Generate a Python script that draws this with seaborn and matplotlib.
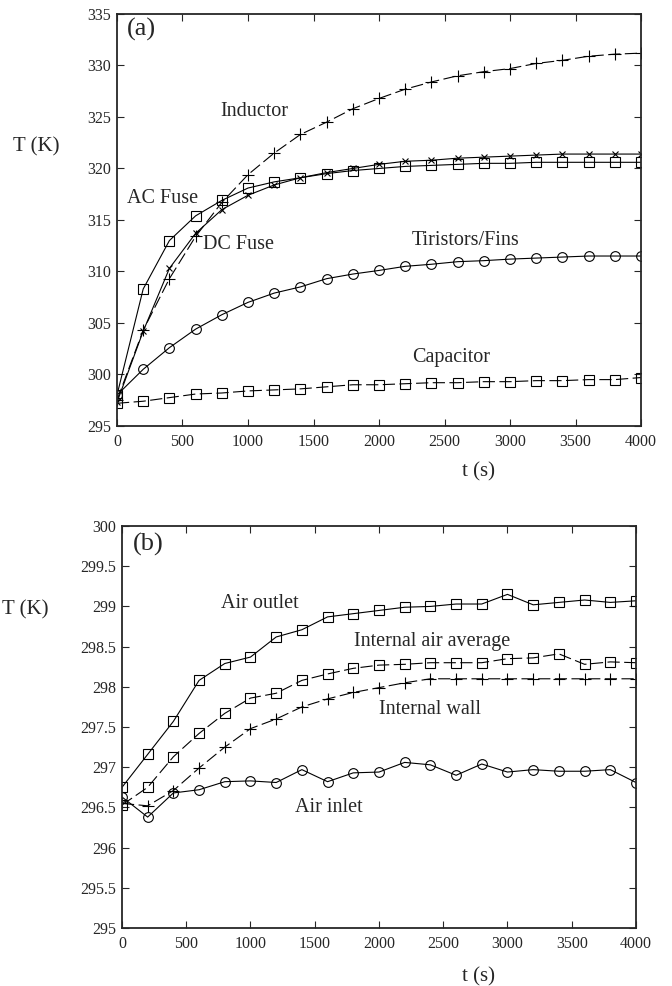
import numpy as np
import matplotlib
matplotlib.use("Agg")
import matplotlib.pyplot as plt
import seaborn as sns

sns.set_style("ticks")
plt.rcParams['font.family'] = ['Liberation Serif', 'DejaVu Serif']

t = np.arange(0, 4001, 200)

# panel (a)
inductor = [297.5, 304.3, 309.3, 313.4, 316.7, 319.4, 321.5, 323.3, 324.5, 325.8, 326.8,
            327.7, 328.4, 329.0, 329.4, 329.7, 330.2, 330.5, 330.9, 331.1, 331.2]
ac_fuse = [298.0, 308.3, 313.0, 315.4, 316.9, 318.1, 318.7, 319.1, 319.5, 319.8, 320.0,
           320.2, 320.3, 320.4, 320.5, 320.5, 320.6, 320.6, 320.6, 320.6, 320.6]
dc_fuse = [297.3, 304.2, 310.3, 313.7, 316.0, 317.4, 318.4, 319.1, 319.6, 320.0, 320.4,
           320.7, 320.8, 321.0, 321.1, 321.2, 321.3, 321.4, 321.4, 321.4, 321.4]
tiristors = [298.0, 300.5, 302.6, 304.4, 305.8, 307.0, 307.9, 308.5, 309.3, 309.75, 310.1,
             310.5, 310.7, 310.95, 311.05, 311.2, 311.3, 311.4, 311.5, 311.5, 311.5]
capacitor = [297.2, 297.4, 297.75, 298.1, 298.2, 298.4, 298.5, 298.6, 298.8, 299.0, 299.0,
             299.1, 299.2, 299.2, 299.3, 299.3, 299.4, 299.4, 299.5, 299.5, 299.7]

# panel (b)
air_outlet = [296.75, 297.16, 297.57, 298.08, 298.29, 298.37, 298.62, 298.71, 298.87, 298.91, 298.95,
              298.99, 299.0, 299.03, 299.03, 299.15, 299.02, 299.05, 299.08, 299.05, 299.07]
air_avg = [296.53, 296.75, 297.13, 297.42, 297.67, 297.86, 297.92, 298.08, 298.16, 298.23, 298.27,
           298.28, 298.30, 298.30, 298.30, 298.35, 298.36, 298.41, 298.28, 298.31, 298.30]
int_wall = [296.55, 296.52, 296.71, 296.99, 297.25, 297.48, 297.60, 297.75, 297.85, 297.93, 297.99,
            298.05, 298.10, 298.10, 298.10, 298.10, 298.10, 298.10, 298.10, 298.10, 298.10]
air_inlet = [296.63, 296.38, 296.68, 296.72, 296.82, 296.83, 296.81, 296.97, 296.82, 296.93, 296.94,
             297.06, 297.03, 296.90, 297.04, 296.94, 296.97, 296.95, 296.95, 296.97, 296.81]

dash = (0, (11, 4))

def draw(ax, y, marker, ls, ms):
    sns.lineplot(x=t, y=y, ax=ax, color='k', lw=0.8, linestyle=ls, marker=marker,
                 markersize=ms, markerfacecolor='none', mec='k', mew=0.8, errorbar=None)

fig = plt.figure(figsize=(6.72, 9.86), dpi=100)
ax1 = fig.add_axes([0.1741, 0.5680, 0.7798, 0.4178])
ax2 = fig.add_axes([0.1815, 0.0588, 0.7649, 0.4077])

draw(ax1, inductor, '+', dash, 8)
draw(ax1, ac_fuse, 's', '-', 7)
draw(ax1, dc_fuse, 'x', '-', 5)
draw(ax1, tiristors, 'o', '-', 7)
draw(ax1, capacitor, 's', dash, 7)

draw(ax2, air_outlet, 's', '-', 7)
draw(ax2, air_avg, 's', dash, 7)
draw(ax2, int_wall, '+', dash, 8)
draw(ax2, air_inlet, 'o', '-', 7)

txt = dict(fontsize=14.5, va='center', ha='left')
ax1.text(786, 325.5, 'Inductor', **txt)
ax1.text(76, 317.1, 'AC Fuse', **txt)
ax1.text(657, 312.6, 'DC Fuse', **txt)
ax1.text(2252, 313.0, 'Tiristors/Fins', **txt)
ax1.text(2252, 301.65, 'Capacitor', **txt)
ax1.text(75, 334.6, '(a)', fontsize=19, va='top', ha='left')

ax2.text(770, 299.04, 'Air outlet', **txt)
ax2.text(1805, 298.56, 'Internal air average', **txt)
ax2.text(2000, 297.72, 'Internal wall', **txt)
ax2.text(1346, 296.50, 'Air inlet', **txt)
ax2.text(86, 299.92, '(b)', fontsize=19, va='top', ha='left')

ax1.set_xlim(0, 4000)
ax1.set_ylim(295, 335)
ax1.set_yticks(np.arange(295, 336, 5))
ax2.set_xlim(0, 4000)
ax2.set_ylim(295, 300)
ax2.set_yticks(np.arange(295, 300.01, 0.5))

for ax, lx, ly, tx, ty in [(ax1, -0.198, 0.677, 0.689, -0.112),
                           (ax2, -0.233, 0.791, 0.693, -0.122)]:
    ax.set_xticks(np.arange(0, 4001, 500))
    ax.yaxis.set_major_formatter(matplotlib.ticker.FormatStrFormatter('%g'))
    ax.tick_params(direction='in', top=True, right=True, length=5, width=0.8,
                   labelsize=11.5, pad=4)
    ax.tick_params(axis='x', pad=6)
    for s in ax.spines.values():
        s.set_linewidth(1.3)
    ax.set_ylabel('T (K)', rotation=0, fontsize=15, ha='left', va='center')
    ax.yaxis.set_label_coords(lx, ly)
    ax.set_xlabel('t (s)', fontsize=15, ha='center', va='center')
    ax.xaxis.set_label_coords(tx, ty)

fig.savefig('out.png', dpi=100)
